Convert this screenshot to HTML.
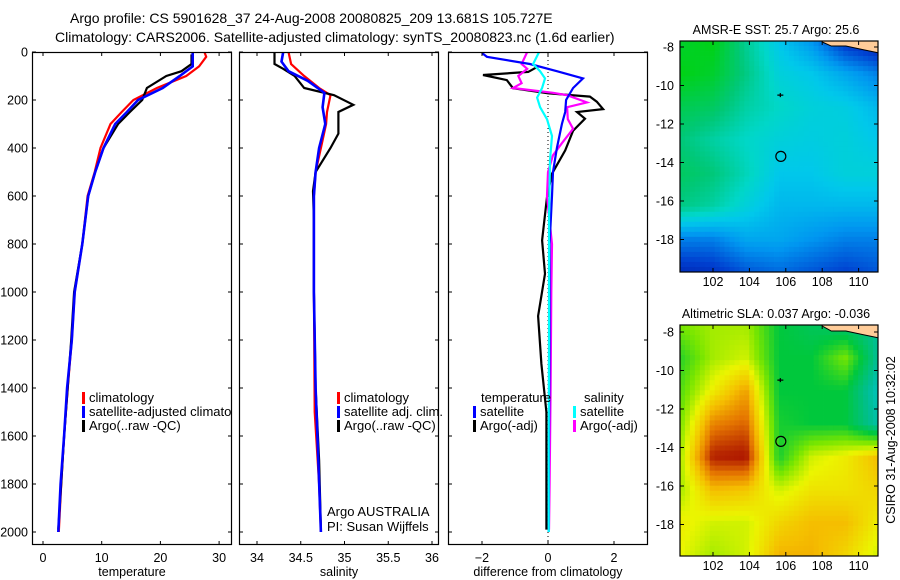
<!DOCTYPE html>
<html><head><meta charset="utf-8"><style>
html,body{margin:0;padding:0;background:#fff;}
svg{display:block;font-family:"Liberation Sans",sans-serif;}
</style></head><body>
<svg id="fig" width="900" height="580" viewBox="0 0 900 580">
<text x="70" y="23" font-size="14">Argo profile: CS 5901628_37 24-Aug-2008 20080825_209 13.681S 105.727E</text>
<text x="55" y="42" font-size="14">Climatology: CARS2006. Satellite-adjusted climatology: synTS_20080823.nc (1.6d earlier)</text>
<g id="g"></g>
</svg>
<script>
// ---------- data ----------
const depthTicks = [0,200,400,600,800,1000,1200,1400,1600,1800,2000];
const tempTicks = [0,10,20,30];
const salTicks = [34,34.5,35,35.5,36];
const diffTicks = [-2,0,2];
const latTicks = [-8,-10,-12,-14,-16,-18];
const lonTicks = [102,104,106,108,110];

const tClimD = [0,20,60,100,150,200,250,300,400,500,600,800,1000,1200,1400,1600,1800,2000];
const tClimV = [27.5,27.8,26.6,24.4,19.4,15.4,13.4,11.5,9.8,8.8,7.6,6.7,5.4,4.9,4.2,3.6,3.1,2.7];
const tSatD = [0,60,100,150,200,250,300,400,500,600,800,1000,1200,1400,1600,1800,2000];
const tSatV = [25.5,25.5,23.3,20.4,16.2,14.3,12.3,10.3,8.9,7.7,6.7,5.4,4.9,4.1,3.6,3.0,2.6];
const tArgoD = [10,50,80,100,150,200,250,300,400,500,600,800,1000,1200,1400,1600,1800,1990];
const tArgoV = [25.3,25.3,23.6,21.0,17.7,16.9,14.8,12.8,10.3,8.9,7.7,6.7,5.3,4.8,4.2,3.6,3.1,2.6];

const sClimD = [0,50,100,150,180,250,300,400,500,600,1000,1500,1800,2000];
const sClimV = [34.36,34.39,34.54,34.71,34.84,34.80,34.79,34.73,34.67,34.65,34.65,34.66,34.71,34.73];
const sSatD = [0,40,80,120,170,230,300,400,500,600,1000,1400,1700,2000];
const sSatV = [34.30,34.28,34.36,34.58,34.77,34.75,34.78,34.71,34.67,34.65,34.65,34.67,34.70,34.73];
const sArgoD = [0,50,70,100,150,180,220,250,340,400,500,580,700,1000,1400,1700,1990];
const sArgoV = [34.20,34.20,34.30,34.43,34.54,34.88,35.10,34.93,34.93,34.84,34.67,34.64,34.65,34.65,34.67,34.71,34.73];

const dTSatD = [4,20,50,80,110,150,200,250,300,400,500,600,800,1200,1600,2000];
const dTSatV = [-2.0,-1.85,-0.55,0.27,1.06,0.76,0.55,0.52,0.42,0.27,0.15,0.12,0.05,0.05,0.03,0.02];
const dTArgoD = [60,83,96,117,151,172,186,207,238,250,278,328,410,507,604,785,924,1100,1300,1500,1800,1990];
const dTArgoV = [-0.3,-0.6,-1.97,-1.25,-1.06,0.0,1.27,1.48,1.67,0.88,1.12,0.76,0.52,0.12,-0.03,-0.18,-0.09,-0.3,-0.2,-0.05,-0.05,-0.05];
const dSSatD = [0,50,80,110,150,190,230,280,350,450,700,1200,1600,2000];
const dSSatV = [-0.27,-0.45,-0.24,-0.09,-0.18,-0.33,-0.24,-0.03,0.12,0.06,0.03,0.03,0.02,0.02];
const dSArgoD = [0,50,70,100,130,150,170,180,210,230,280,320,380,430,500,600,800,1000,1400,1800,1990];
const dSArgoV = [-0.63,-0.8,-0.63,-0.9,-0.8,-1.06,0.15,0.58,1.18,0.58,0.6,0.76,0.42,0.15,0.0,-0.03,0.12,0.1,0.08,0.05,0.03];

// maps: coarse grids (rows top->bottom, cols west->east), normalised colour values
const sstGrid = [
 [0.95,1.0,0.75,0.55,0.4,0.15,0.05],
 [1.0,0.95,0.78,0.6,0.55,0.45,0.35],
 [0.88,0.85,0.72,0.65,0.6,0.58,0.5],
 [0.8,0.72,0.65,0.6,0.58,0.6,0.55],
 [0.85,0.8,0.68,0.55,0.55,0.6,0.6],
 [0.78,0.72,0.6,0.5,0.5,0.5,0.5],
 [0.35,0.35,0.45,0.45,0.4,0.35,0.35],
 [0.12,0.15,0.25,0.3,0.25,0.2,0.25]];
const slaGrid = [
 [0.45,0.5,0.5,0.3,0.25,0.2,0.15],
 [0.35,0.5,0.55,0.3,0.3,0.45,0.15],
 [0.4,0.6,0.75,0.3,0.3,0.3,0.08],
 [0.45,0.8,0.85,0.33,0.3,0.3,0.12],
 [0.5,0.95,0.97,0.33,0.55,0.6,0.7],
 [0.5,0.7,0.68,0.55,0.62,0.62,0.65],
 [0.6,0.55,0.55,0.65,0.7,0.7,0.6],
 [0.58,0.5,0.55,0.72,0.72,0.65,0.55]];
const argoPos = [105.727,-13.681];
const prevPos = [105.7,-10.5];

// ---------- helpers ----------
const NS="http://www.w3.org/2000/svg";
const G=document.getElementById('g');
function el(tag,attrs,parent){const e=document.createElementNS(NS,tag);for(const k in attrs)e.setAttribute(k,attrs[k]);(parent||G).appendChild(e);return e;}
function txt(x,y,s,size,anchor,parent){const t=el('text',{x:x,y:y,'font-size':size,'text-anchor':anchor||'start'},parent);t.textContent=s;return t;}

const yTop=52, pxm=0.24;
const yD=d=>yTop+d*pxm;
const yBot=545;
const panels=[
 {name:'temperature-panel',x0:32,x1:232,sx:v=>43+v*5.87,ticks:tempTicks,label:'temperature'},
 {name:'salinity-panel',x0:239,x1:439,sx:v=>257+(v-34)*87.5,ticks:salTicks,label:'salinity'},
 {name:'difference-panel',x0:448,x1:648,sx:v=>548+v*33,ticks:diffTicks,label:'difference from climatology'}];

panels.forEach((p,i)=>{
 const g=el('g',{});
 
 
 const cp=el('clipPath',{id:'cp'+i},g);
 el('rect',{x:p.x0,y:yTop,width:p.x1-p.x0,height:yBot-yTop},cp);
 p.g=el('g',{'clip-path':'url(#cp'+i+')'},g);
 const fr=el('rect',{x:p.x0+0.5,y:yTop+0.5,width:p.x1-p.x0-1,height:yBot-yTop-1,fill:'none',stroke:'#000','stroke-width':1.2},g);
 
 
 p.ticks.forEach(v=>{const x=p.sx(v);
  el('line',{x1:x,x2:x,y1:yTop,y2:yTop+4,stroke:'#000'},g);
  el('line',{x1:x,x2:x,y1:yBot,y2:yBot-4,stroke:'#000'},g);
  const t=txt(x,562,String(v).replace('-','\u2212'),12.5,'middle',g);
  
  });
 depthTicks.forEach(d=>{const y=yD(d);
  el('line',{x1:p.x0,x2:p.x0+4,y1:y,y2:y,stroke:'#000'},g);
  el('line',{x1:p.x1,x2:p.x1-4,y1:y,y2:y,stroke:'#000'},g);
  if(i===0){const t=txt(28,y+4.5,String(d),12.5,'end',g);
   
   }});
 const xl=txt((p.x0+p.x1)/2,576,p.label,12.5,'middle',g);
 
 
});

function line(p,D,V,color,name,w){
 const pts=D.map((d,k)=>p.sx(V[k]).toFixed(1)+','+yD(d).toFixed(1)).join(' ');
 const l=el('polyline',{points:pts,fill:'none',stroke:color,'stroke-width':w||2.2,'stroke-linejoin':'miter'},p.g);
 
 
}
el('line',{x1:548,x2:548,y1:yTop,y2:yBot,stroke:'#000','stroke-dasharray':'1,3'},panels[2].g);
line(panels[0],tClimD,tClimV,'#f00','temp-climatology-line');
line(panels[0],tArgoD,tArgoV,'#000','temp-argo-line');
line(panels[0],tSatD,tSatV,'#00f','temp-satellite-line',2.6);
line(panels[1],sClimD,sClimV,'#f00','sal-climatology-line');
line(panels[1],sArgoD,sArgoV,'#000','sal-argo-line');
line(panels[1],sSatD,sSatV,'#00f','sal-satellite-line',2.6);
line(panels[2],dTArgoD,dTArgoV,'#000','diff-temp-argo-line');
line(panels[2],dSArgoD,dSArgoV,'#f0f','diff-sal-argo-line');
line(panels[2],dTSatD,dTSatV,'#00f','diff-temp-satellite-line');
line(panels[2],dSSatD,dSSatV,'#0ff','diff-sal-satellite-line');

function legend(x,y,color,label,parent){
 const g=el('g',{},parent);
 
 
 if(color) el('rect',{x:x,y:y-10,width:3,height:12,fill:color},g);
 txt(x+7,y,label,13,'start',g);
}
legend(82,402,'#f00','climatology',panels[0].g);
legend(82,416,'#00f','satellite-adjusted climatology',panels[0].g);
legend(82,430,'#000','Argo(..raw -QC)',panels[0].g);
legend(337,402,'#f00','climatology');
legend(337,416,'#00f','satellite adj. clim.');
legend(337,430,'#000','Argo(..raw -QC)');
legend(474,402,null,'temperature');
legend(473,416,'#00f','satellite');
legend(473,430,'#000','Argo(-adj)');
legend(577,402,null,'salinity');
legend(573,416,'#0ff','satellite');
legend(573,430,'#f0f','Argo(-adj)');
const a1=txt(327,516,'Argo AUSTRALIA',13);


const a2=txt(327,531,'PI: Susan Wijffels',13);



// ---------- maps ----------
function lerp(a,b,t){return a+(b-a)*t;}
function cmap(stops,v){v=Math.max(0,Math.min(1,v));
 for(let k=1;k<stops.length;k++){if(v<=stops[k][0]){const a=stops[k-1],b=stops[k],t=(v-a[0])/(b[0]-a[0]);
  return 'rgb('+[1,2,3].map(j=>Math.round(lerp(a[j],b[j],t))).join(',')+')';}}
 const l=stops[stops.length-1];return 'rgb('+l[1]+','+l[2]+','+l[3]+')';}
const sstStops=[[0,0,16,150],[0.2,0,64,208],[0.4,0,150,240],[0.55,0,200,235],[0.65,0,215,200],[0.8,0,200,120],[1,0,210,20]];
const slaStops=[[0,0,200,230],[0.15,0,190,150],[0.3,0,200,60],[0.45,120,230,0],[0.58,235,245,0],[0.7,245,190,0],[0.82,230,120,0],[0.92,190,50,0],[1,160,0,0]];
function mapPanel(name,grid,stops,top,bot,lat8y,title){
 const x0=680,x1=878;
 const g=el('g',{});
 
 
 const ppd=19.25;
 const lx=lon=>713+(lon-102)*18.2;
 const ly=lat=>lat8y+(-8-lat)*ppd;
 const nx=40,ny=46,R=grid.length,C=grid[0].length;
 const cw=(x1-x0)/nx,ch=(bot-top)/ny;
 for(let j=0;j<ny;j++)for(let i=0;i<nx;i++){
  const u=(i+0.5)/nx*(C-1),w=(j+0.5)/ny*(R-1);
  const i0=Math.floor(u),j0=Math.floor(w),i1=Math.min(C-1,i0+1),j1=Math.min(R-1,j0+1),fu=u-i0,fw=w-j0;
  const v=lerp(lerp(grid[j0][i0],grid[j0][i1],fu),lerp(grid[j1][i0],grid[j1][i1],fu),fw);
  el('rect',{x:(x0+i*cw).toFixed(2),y:(top+j*ch).toFixed(2),width:(cw+0.4).toFixed(2),height:(ch+0.4).toFixed(2),fill:cmap(stops,v)},g);
 }
 const land=el('polygon',{points:`${lx(108)},${top} ${x1},${top} ${x1},${ly(-8.3)} ${lx(110.3)},${ly(-8.15)} ${lx(109.3)},${ly(-7.95)} ${lx(108.5)},${ly(-7.95)} ${lx(108)},${top+1}`,fill:'#ffcc99',stroke:'#000','stroke-width':1},g);
 
 
 const cx=lx(argoPos[0]),cy=ly(argoPos[1]);
 const c=el('circle',{cx:cx,cy:cy,r:5,fill:'none',stroke:'#000','stroke-width':1.2},g);
 
 
 const px=lx(prevPos[0]),py=ly(prevPos[1]);
 el('path',{d:`M${px-3},${py}h6M${px},${py-2}v4`,stroke:'#000','stroke-width':1.3},g);
 const fr=el('rect',{x:x0,y:top,width:x1-x0,height:bot-top,fill:'none',stroke:'#000','stroke-width':1.2},g);
 
 
 latTicks.forEach(l=>{const y=ly(l);
  el('line',{x1:x0,x2:x0+4,y1:y,y2:y,stroke:'#000'},g);
  el('line',{x1:x1,x2:x1-4,y1:y,y2:y,stroke:'#000'},g);
  const t=txt(674,y+4.5,String(l),12.5,'end',g);
  
  });
 lonTicks.forEach(l=>{const x=lx(l);
  el('line',{x1:x,x2:x,y1:top,y2:top+4,stroke:'#000'},g);
  el('line',{x1:x,x2:x,y1:bot,y2:bot-4,stroke:'#000'},g);
  const t=txt(x,bot+14,String(l),12.5,'middle',g);
  
  });
 const tt=txt(776,top-7,title,12.5,'middle',g);
 
 
}
mapPanel('sst-map',sstGrid,sstStops,41,272,47,'AMSR-E SST: 25.7 Argo: 25.6');
mapPanel('sla-map',slaGrid,slaStops,325,556,332,'Altimetric SLA: 0.037 Argo: -0.036');
const st=txt(0,0,'CSIRO 31-Aug-2008 10:32:02',12.5,'middle');
st.setAttribute('transform','translate(895,440) rotate(-90)');


</script>
</body></html>
